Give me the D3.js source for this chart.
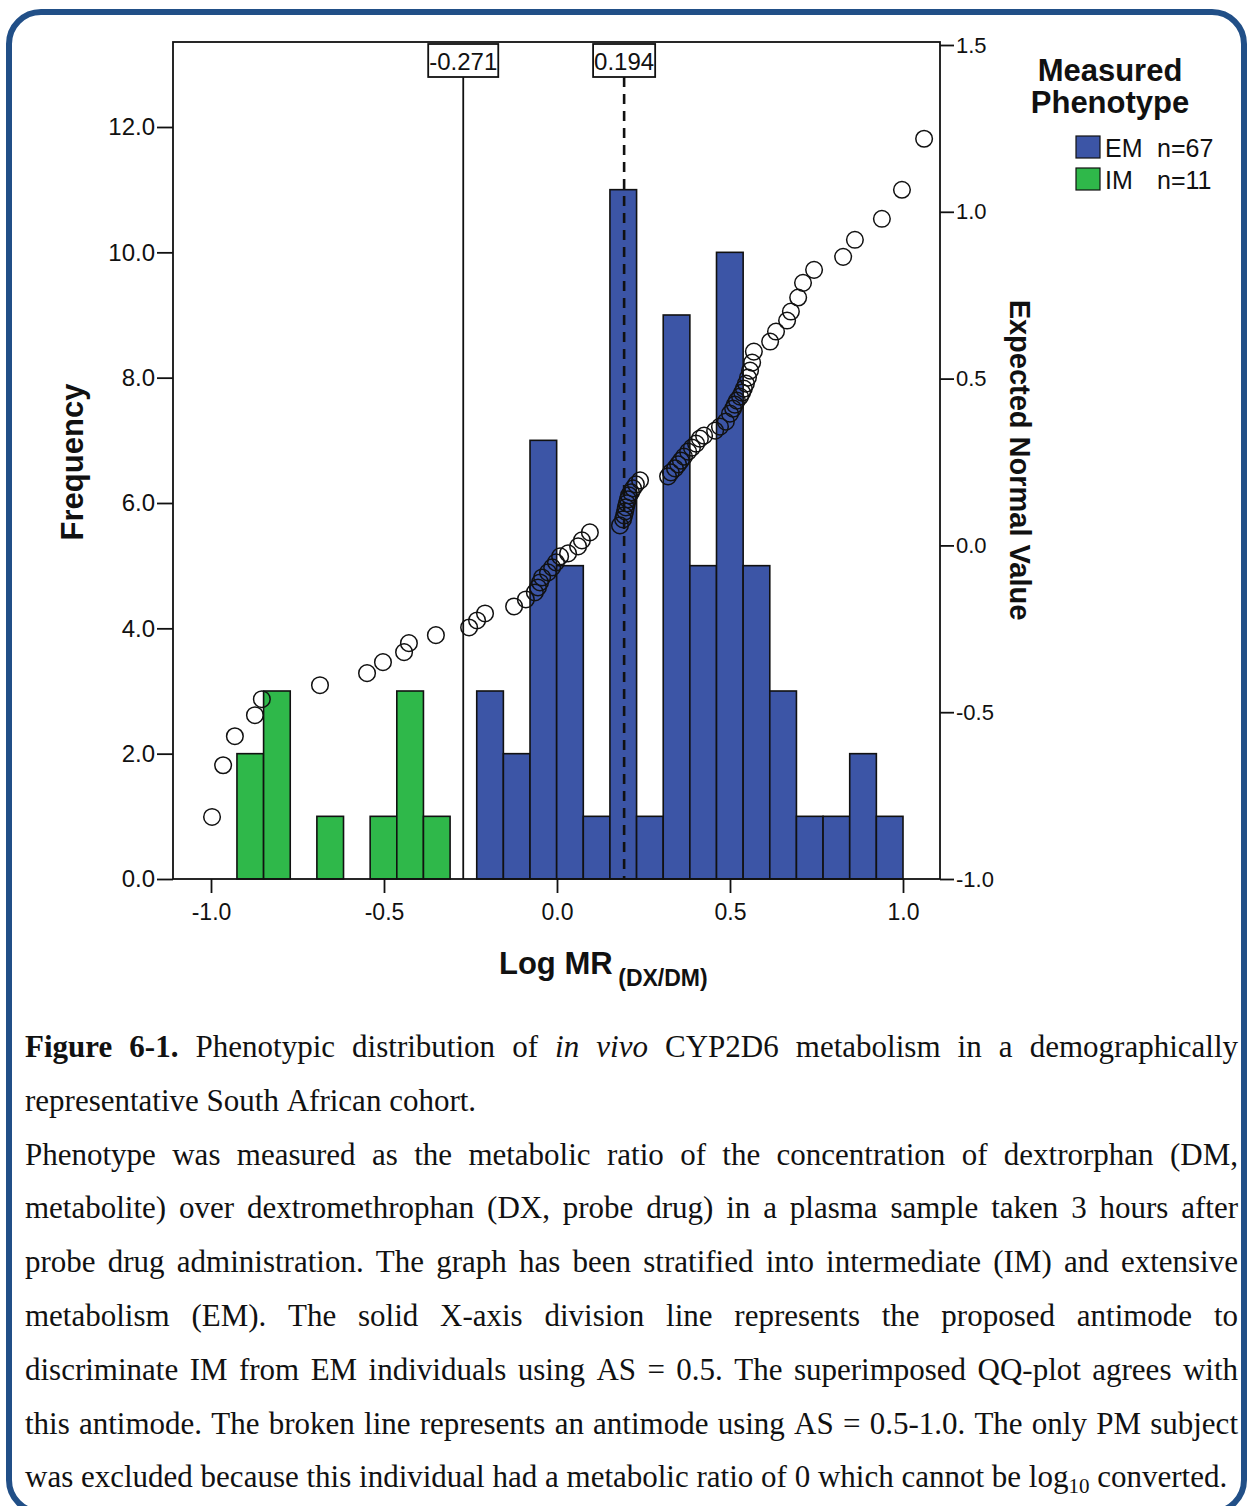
<!DOCTYPE html>
<html>
<head>
<meta charset="utf-8">
<script src="https://cdn.jsdelivr.net/npm/d3@7"></script>
<style>
  html, body { margin: 0; padding: 0; background: #fff; }
  svg { display: block; }
</style>
</head>
<body>
<svg id="fig" width="1248" height="1506"></svg>
<script>
// Histogram bins of log metabolic ratio (lower edges + final upper edge)
const binEdges = [-0.925, -0.848, -0.771, -0.694, -0.617, -0.540, -0.463, -0.386, -0.309,
  -0.232, -0.155, -0.078, -0.001, 0.076, 0.153, 0.230, 0.307, 0.384, 0.461, 0.538,
  0.615, 0.692, 0.769, 0.846, 0.923, 1.000];
const emCounts = [0, 0, 0, 0, 0, 0, 0, 0, 0, 3, 2, 7, 5, 1, 11, 1, 9, 5, 10, 5, 3, 1, 1, 2, 1];
const imCounts = [2, 3, 0, 1, 0, 1, 3, 1, 0, 0, 0, 0, 0, 0, 0, 0, 0, 0, 0, 0, 0, 0, 0, 0, 0];

// Q-Q plot: observed log MR vs expected normal value
const qqObserved = [-0.997, -0.965, -0.931, -0.873, -0.853, -0.685, -0.549, -0.503, -0.442, -0.428,
  -0.350, -0.254, -0.231, -0.208, -0.124, -0.090, -0.064, -0.055, -0.049, -0.043,
  -0.026, -0.014, -0.003, 0.009, 0.032, 0.061, 0.072, 0.095, 0.182, 0.191,
  0.194, 0.197, 0.199, 0.202, 0.205, 0.208, 0.214, 0.220, 0.228, 0.240,
  0.321, 0.329, 0.341, 0.350, 0.358, 0.367, 0.379, 0.390, 0.402, 0.413,
  0.425, 0.457, 0.471, 0.488, 0.500, 0.509, 0.514, 0.520, 0.529, 0.535,
  0.540, 0.546, 0.552, 0.558, 0.564, 0.569, 0.616, 0.633, 0.665, 0.676,
  0.697, 0.711, 0.743, 0.827, 0.861, 0.939, 0.997, 1.061];
const qqExpected = [-0.814, -0.659, -0.572, -0.509, -0.461, -0.419, -0.383, -0.350, -0.320, -0.293,
  -0.269, -0.246, -0.225, -0.204, -0.183, -0.162, -0.141, -0.126, -0.111, -0.096,
  -0.081, -0.066, -0.051, -0.033, -0.024, -0.003, 0.015, 0.039, 0.060, 0.078,
  0.090, 0.102, 0.114, 0.126, 0.138, 0.150, 0.159, 0.171, 0.183, 0.195,
  0.207, 0.219, 0.231, 0.243, 0.254, 0.266, 0.281, 0.293, 0.305, 0.320,
  0.329, 0.344, 0.356, 0.371, 0.395, 0.410, 0.422, 0.434, 0.446, 0.458,
  0.470, 0.485, 0.503, 0.524, 0.548, 0.581, 0.611, 0.641, 0.674, 0.701,
  0.743, 0.787, 0.826, 0.865, 0.916, 0.979, 1.066, 1.219];

// Axis ticks
const freqTicks = [0, 2, 4, 6, 8, 10, 12];
const normTicks = [-1.0, -0.5, 0.0, 0.5, 1.0, 1.5];
const logTicks = [-1.0, -0.5, 0.0, 0.5, 1.0];

// Antimode reference lines
const antimodeValues = [-0.271, 0.194];
const antimodeLabels = ["-0.271", "0.194"];
const antimodeDashed = [false, true];

// Legend
const phenoNames = ["EM", "IM"];
const phenoN = ["n=67", "n=11"];
const phenoColors = ["#3c55a6", "#2fb84a"];

// Caption lines (* bold, _ italic, ~ subscript)
const captionLines = [
  "*Figure 6-1.* Phenotypic distribution of _in vivo_ CYP2D6 metabolism in a demographically",
  "representative South African cohort.",
  "Phenotype was measured as the metabolic ratio of the concentration of dextrorphan (DM,",
  "metabolite) over dextromethrophan (DX, probe drug) in a plasma sample taken 3 hours after",
  "probe drug administration. The graph has been stratified into intermediate (IM) and extensive",
  "metabolism (EM). The solid X-axis division line represents the proposed antimode to",
  "discriminate IM from EM individuals using AS = 0.5. The superimposed QQ-plot agrees with",
  "this antimode. The broken line represents an antimode using AS = 0.5-1.0. The only PM subject",
  "was excluded because this individual had a metabolic ratio of 0 which cannot be log~10~ converted."
];
const captionJustify = [true, false, true, true, true, true, true, true, false];

const svg = d3.select("#fig");
const sans = "'Liberation Sans', Arial, sans-serif";
const serif = "'Liberation Serif', 'Times New Roman', serif";

// Rounded frame around the figure
svg.append("rect")
  .attr("x", 9).attr("y", 12).attr("width", 1235).attr("height", 1500)
  .attr("rx", 32).attr("ry", 32)
  .attr("fill", "none").attr("stroke", "#214f87").attr("stroke-width", 6);

// Plot area
const plot = { left: 173, right: 940, top: 42, bottom: 879 };
const x = d3.scaleLinear().domain([-1, 1]).range([211, 903]);
const yFreq = d3.scaleLinear().domain([0, 12]).range([plot.bottom, 127]);
const yNorm = d3.scaleLinear().domain([-1, 1.5]).range([plot.bottom, 45]);

const g = svg.append("g");

// Bars: IM (green) and EM (blue)
const bins = emCounts.map((c, i) => ({ x0: binEdges[i], x1: binEdges[i + 1], em: c, im: imCounts[i] }));
const barData = [];
bins.forEach(b => {
  if (b.im > 0) barData.push({ x0: b.x0, x1: b.x1, n: b.im, color: phenoColors[1] });
  if (b.em > 0) barData.push({ x0: b.x0, x1: b.x1, n: b.em, color: phenoColors[0] });
});
g.selectAll("rect.bar").data(barData).join("rect")
  .attr("class", "bar")
  .attr("x", d => x(d.x0))
  .attr("width", d => x(d.x1) - x(d.x0))
  .attr("y", d => yFreq(d.n))
  .attr("height", d => yFreq(0) - yFreq(d.n))
  .attr("fill", d => d.color)
  .attr("stroke", "#111").attr("stroke-width", 1.6);

// Antimode lines with boxed labels
antimodeValues.forEach((v, i) => {
  const px = x(v);
  g.append("line")
    .attr("x1", px).attr("x2", px).attr("y1", 77).attr("y2", plot.bottom)
    .attr("stroke", "#111").attr("stroke-width", antimodeDashed[i] ? 2.6 : 1.8)
    .attr("stroke-dasharray", antimodeDashed[i] ? "10,7" : null);
  const t = g.append("text")
    .attr("x", px).attr("y", 70)
    .attr("text-anchor", "middle")
    .attr("font-family", sans).attr("font-size", 24)
    .attr("fill", "#111").text(antimodeLabels[i]);
  const w = t.node().getComputedTextLength();
  g.insert("rect", () => t.node())
    .attr("x", px - w / 2 - 1).attr("y", 44)
    .attr("width", w + 2).attr("height", 33)
    .attr("fill", "#fff").attr("stroke", "#111").attr("stroke-width", 1.8);
});

// Q-Q points
const qq = qqObserved.map((v, i) => ({ obs: v, exp: qqExpected[i] }));
g.selectAll("circle.qq").data(qq).join("circle")
  .attr("class", "qq")
  .attr("cx", d => x(d.obs)).attr("cy", d => yNorm(d.exp))
  .attr("r", 8.3)
  .attr("fill", "none").attr("stroke", "#111").attr("stroke-width", 1.5);

// Plot frame
g.append("rect")
  .attr("x", plot.left).attr("y", plot.top)
  .attr("width", plot.right - plot.left).attr("height", plot.bottom - plot.top)
  .attr("fill", "none").attr("stroke", "#111").attr("stroke-width", 1.8);

const fmt = d => d.toFixed(1);

// Left axis: frequency
const axL = svg.append("g").attr("transform", `translate(${plot.left},0)`)
  .call(d3.axisLeft(yFreq).tickValues(freqTicks).tickFormat(fmt).tickSize(16).tickPadding(2));
// Right axis: expected normal value
const axR = svg.append("g").attr("transform", `translate(${plot.right},0)`)
  .call(d3.axisRight(yNorm).tickValues(normTicks).tickFormat(fmt).tickSize(14).tickPadding(2));
// Bottom axis: log MR
const axB = svg.append("g").attr("transform", `translate(0,${plot.bottom})`)
  .call(d3.axisBottom(x).tickValues(logTicks).tickFormat(fmt).tickSize(14).tickPadding(11));

[axL, axR, axB].forEach(a => {
  a.select(".domain").remove();
  a.selectAll(".tick line").attr("stroke", "#111").attr("stroke-width", 1.8);
  a.selectAll(".tick text").attr("fill", "#111").attr("font-family", sans).attr("font-size", 24);
});
axR.selectAll(".tick text").attr("font-size", 22);
axB.selectAll(".tick text").attr("font-size", 23);

// Axis titles
svg.append("text")
  .attr("transform", "translate(83,462) rotate(-90)")
  .attr("text-anchor", "middle")
  .attr("font-family", sans).attr("font-weight", "bold").attr("font-size", 31)
  .attr("fill", "#111").text("Frequency");

svg.append("text")
  .attr("transform", "translate(1010,460) rotate(90)")
  .attr("text-anchor", "middle")
  .attr("font-family", sans).attr("font-weight", "bold").attr("font-size", 29)
  .attr("fill", "#111").text("Expected Normal Value");

const xt = svg.append("text")
  .attr("x", 499).attr("y", 974)
  .attr("font-family", sans).attr("font-weight", "bold").attr("fill", "#111");
xt.append("tspan").attr("font-size", 31).text("Log MR ");
xt.append("tspan").attr("font-size", 23).attr("dy", 12).attr("dx", -3).text("(DX/DM)");

// Legend
svg.append("text")
  .attr("x", 1110).attr("y", 81).attr("text-anchor", "middle")
  .attr("font-family", sans).attr("font-weight", "bold").attr("font-size", 31)
  .attr("fill", "#111").text("Measured");
svg.append("text")
  .attr("x", 1110).attr("y", 113).attr("text-anchor", "middle")
  .attr("font-family", sans).attr("font-weight", "bold").attr("font-size", 31)
  .attr("fill", "#111").text("Phenotype");
phenoNames.forEach((name, i) => {
  const yy = 136 + i * 32;
  svg.append("rect")
    .attr("x", 1076).attr("y", yy).attr("width", 24).attr("height", 22)
    .attr("fill", phenoColors[i]).attr("stroke", "#111").attr("stroke-width", 1.2);
  svg.append("text")
    .attr("x", 1105).attr("y", yy + 21)
    .attr("font-family", sans).attr("font-size", 25).attr("fill", "#111").text(name);
  svg.append("text")
    .attr("x", 1157).attr("y", yy + 21)
    .attr("font-family", sans).attr("font-size", 25).attr("fill", "#111").text(phenoN[i]);
});

// Caption: parse markup into words made of styled parts, then justify
function parseLine(str) {
  const words = [];
  let bold = false, italic = false, sub = false;
  let cur = [];
  let buf = "";
  const flushPart = () => {
    if (buf.length) { cur.push({ t: buf, bold, italic, sub }); buf = ""; }
  };
  for (const ch of str) {
    if (ch === "*") { flushPart(); bold = !bold; }
    else if (ch === "_") { flushPart(); italic = !italic; }
    else if (ch === "~") { flushPart(); sub = !sub; }
    else if (ch === " ") { flushPart(); if (cur.length) words.push(cur); cur = []; }
    else buf += ch;
  }
  flushPart();
  if (cur.length) words.push(cur);
  return words;
}

const capLeft = 25, capRight = 1238, capTop = 1057, capStep = 53.8, capSize = 31;
const cap = svg.append("g").attr("font-family", serif).attr("fill", "#111");
const spaceW = (() => {
  const s = cap.append("text").attr("font-size", capSize).text("a a");
  const s2 = cap.append("text").attr("font-size", capSize).text("aa");
  const w = s.node().getComputedTextLength() - s2.node().getComputedTextLength();
  s.remove(); s2.remove();
  return w;
})();
captionLines.forEach((line, li) => {
  const words = parseLine(line);
  const baseY = capTop + li * capStep;
  const nodes = words.map(parts => {
    const t = cap.append("text").attr("y", baseY).attr("font-size", capSize);
    parts.forEach(p => {
      const ts = t.append("tspan").text(p.t);
      if (p.bold) ts.attr("font-weight", "bold");
      if (p.italic) ts.attr("font-style", "italic");
      if (p.sub) ts.attr("font-size", 21).attr("dy", 6);
    });
    return t;
  });
  const widths = nodes.map(t => t.node().getComputedTextLength());
  const total = d3.sum(widths);
  const gap = captionJustify[li] && nodes.length > 1
    ? (capRight - capLeft - total) / (nodes.length - 1)
    : spaceW;
  let cx = capLeft;
  nodes.forEach((t, i) => {
    t.attr("x", cx);
    cx += widths[i] + gap;
  });
});
</script>
</body>
</html>
